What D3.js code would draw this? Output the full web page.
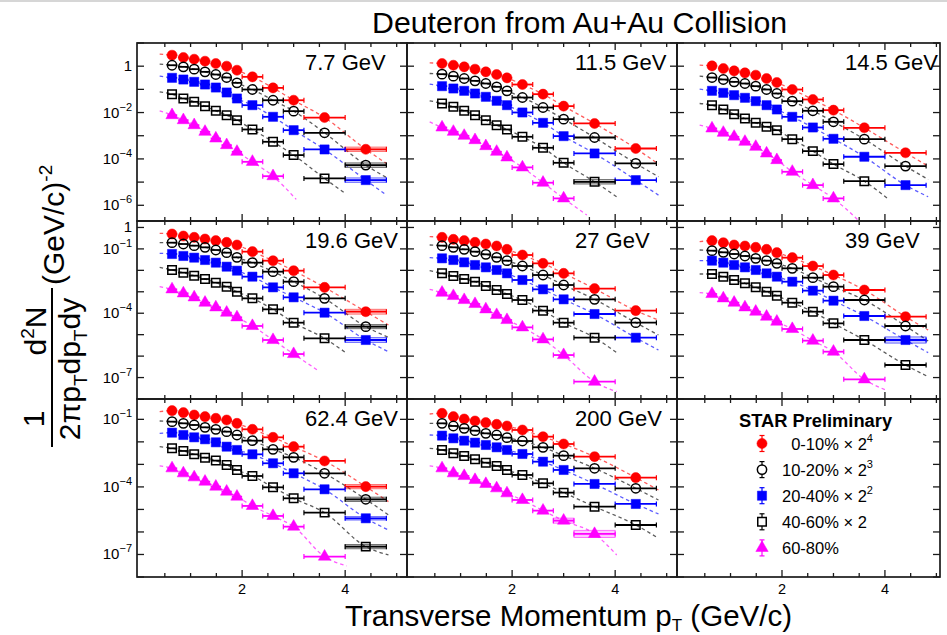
<!DOCTYPE html>
<html>
<head>
<meta charset="utf-8">
<script src="https://cdn.jsdelivr.net/npm/d3@7"></script>
<style>
  body { margin: 0; background: #fff; }
  svg { display: block; }
  text { font-family: "Liberation Sans", Arial, Helvetica, sans-serif; fill: #000; }
</style>
</head>
<body>
<svg id="chart" width="947" height="635"></svg>
<script>
// ---- data -------------------------------------------------------------
const energies = ["7.7 GeV", "11.5 GeV", "14.5 GeV", "19.6 GeV", "27 GeV", "39 GeV", "62.4 GeV", "200 GeV"];
const centralities = ["0-10%", "10-20%", "20-40%", "40-60%", "60-80%"];
const scaleExponents = ["4", "3", "2", "", null];   // "" -> x 2, null -> unscaled

// pT bins (GeV/c): marker position and bin edges
const ptCenter = [0.64, 0.86, 1.07, 1.28, 1.49, 1.70, 1.90, 2.2, 2.6, 3.0, 3.6, 4.4];
const ptLow    = [0.55, 0.76, 0.97, 1.18, 1.39, 1.60, 1.80, 2.0, 2.4, 2.8, 3.2, 4.0];
const ptHigh   = [0.74, 0.96, 1.17, 1.38, 1.59, 1.80, 2.00, 2.4, 2.8, 3.2, 4.0, 4.8];

// scaled invariant yields, one array per centrality class
const spectra_7p7 = [
  [2.98, 2.37, 2.0, 1.64, 1.30, 1.0, 0.67, 0.347, 0.116, 0.034, 6.1e-3, 2.6e-4],
  [1.10, 0.935, 0.743, 0.57, 0.437, 0.324, 0.191, 0.0986, 0.034, 0.0115, 1.34e-3, 5.4e-5],
  [0.314, 0.266, 0.211, 0.162, 0.120, 0.0733, 0.0404, 0.0208, 6.55e-3, 1.74e-3, 2.56e-4, 1.22e-5],
  [0.0621, 0.0404, 0.029, 0.0189, 0.0119, 7.73e-3, 4.7e-3, 1.86e-3, 5.48e-4, 1.46e-4, 1.44e-5],
  [7.73e-3, 4.7e-3, 2.86e-3, 1.48e-3, 7.62e-4, 3.94e-4, 2.03e-4, 7.5e-5, 1.8e-5]
];
const spectra_11p5 = [
  [1.30, 1.10, 0.935, 0.743, 0.57, 0.437, 0.314, 0.162, 0.0621, 0.0189, 3.38e-3, 2.82e-4],
  [0.452, 0.371, 0.294, 0.233, 0.179, 0.1285, 0.0865, 0.0446, 0.0165, 5.2e-3, 8.4e-4, 6.4e-5],
  [0.1374, 0.109, 0.0865, 0.0664, 0.0477, 0.0321, 0.0208, 0.01007, 3.6e-3, 9.6e-4, 1.72e-4, 1.22e-5],
  [0.0246, 0.0177, 0.0119, 7.73e-3, 4.7e-3, 2.86e-3, 1.86e-3, 9.0e-4, 3.02e-4, 6.8e-5, 1.03e-5],
  [2.27e-3, 1.48e-3, 9.93e-4, 6.46e-4, 3.56e-4, 2.03e-4, 1.16e-4, 4.3e-5, 9.4e-6, 1.98e-6]
];
const spectra_14p5 = [
  [1.03, 0.793, 0.63, 0.516, 0.409, 0.294, 0.198, 0.0986, 0.0366, 0.01268, 2.2e-3, 1.84e-4],
  [0.324, 0.266, 0.211, 0.179, 0.1374, 0.0986, 0.0664, 0.031, 0.0119, 3.99e-3, 7.13e-4, 4.9e-5],
  [0.0865, 0.0709, 0.0562, 0.0432, 0.031, 0.0208, 0.01355, 6.55e-3, 2.27e-3, 7.38e-4, 1.24e-4, 7.4e-6],
  [0.0208, 0.01355, 8.53e-3, 5.55e-3, 3.6e-3, 2.43e-3, 1.74e-3, 7.13e-4, 2.17e-4, 5.97e-5, 1.1e-5],
  [2.06e-3, 1.34e-3, 9.0e-4, 5.48e-4, 3.33e-4, 1.72e-4, 8.9e-5, 2.79e-5, 7.4e-6, 1.98e-6]
];
const spectra_19p6 = [
  [0.495, 0.399, 0.346, 0.289, 0.242, 0.202, 0.152, 0.0743, 0.0282, 9.64e-3, 1.61e-3, 1.18e-4],
  [0.195, 0.169, 0.1416, 0.1183, 0.0887, 0.0667, 0.0404, 0.0228, 8.67e-3, 2.96e-3, 4.94e-4, 2.36e-5],
  [0.0578, 0.0467, 0.039, 0.0303, 0.0228, 0.01483, 9.64e-3, 5.07e-3, 1.61e-3, 5.51e-4, 1.06e-4, 5.64e-6],
  [0.01038, 7.78e-3, 5.64e-3, 3.94e-3, 2.66e-3, 1.73e-3, 1.01e-3, 4.94e-4, 1.52e-4, 3.62e-5, 6.73e-6],
  [1.3e-3, 8.45e-4, 5.51e-4, 3.1e-4, 1.88e-4, 1.06e-4, 6.43e-5, 2.54e-5, 5.64e-6, 1.25e-6]
];
const spectra_27 = [
  [0.346, 0.279, 0.242, 0.202, 0.169, 0.1365, 0.0953, 0.0519, 0.0212, 7.24e-3, 1.4e-3, 1.32e-4],
  [0.1416, 0.1183, 0.0953, 0.0743, 0.0557, 0.0404, 0.0282, 0.0159, 6.05e-3, 2.07e-3, 4.44e-4, 3.62e-5],
  [0.0363, 0.0303, 0.0236, 0.01774, 0.0138, 0.01038, 7.24e-3, 3.54e-3, 1.3e-3, 4.44e-4, 9.18e-5, 7.23e-6],
  [7.24e-3, 5.45e-3, 3.94e-3, 2.96e-3, 1.86e-3, 1.21e-3, 7.87e-4, 4.13e-4, 1.32e-4, 3.62e-5, 7.23e-6],
  [9.08e-4, 6.35e-4, 4.13e-4, 2.69e-4, 1.52e-4, 8.26e-5, 4.82e-5, 2.19e-5, 6.05e-6, 1.12e-6, 6.4e-8]
];
const spectra_39 = [
  [0.242, 0.195, 0.152, 0.1365, 0.1183, 0.0953, 0.0667, 0.039, 0.0159, 6.05e-3, 1.21e-3, 6.9e-5],
  [0.0826, 0.0692, 0.0578, 0.0467, 0.0363, 0.0282, 0.0212, 0.0124, 4.55e-3, 1.73e-3, 4.13e-4, 2.54e-5],
  [0.0282, 0.0228, 0.01774, 0.0138, 0.01038, 7.24e-3, 5.07e-3, 2.96e-3, 1.13e-3, 3.85e-4, 7.41e-5, 5.64e-6],
  [6.75e-3, 5.07e-3, 3.54e-3, 2.48e-3, 1.61e-3, 1.01e-3, 6.58e-4, 3.1e-4, 1.18e-4, 3.37e-5, 5.64e-6, 3.85e-7],
  [7.87e-4, 4.94e-4, 3.1e-4, 1.88e-4, 1.18e-4, 6.9e-5, 4.04e-5, 1.84e-5, 5.25e-6, 1.61e-6, 8.24e-8]
];
const spectra_62p4 = [
  [0.243, 0.198, 0.156, 0.1315, 0.111, 0.0935, 0.0665, 0.0361, 0.0159, 6.12e-3, 1.42e-3, 1.03e-4],
  [0.0789, 0.0665, 0.0561, 0.0442, 0.0361, 0.0284, 0.0202, 0.0113, 4.67e-3, 2.06e-3, 4.02e-4, 2.82e-5],
  [0.0256, 0.0202, 0.0159, 0.013, 9.55e-3, 6.12e-3, 4.36e-3, 2.8e-3, 1.12e-3, 4.02e-4, 7.83e-5, 4.04e-6],
  [5.16e-3, 3.94e-3, 2.8e-3, 1.99e-3, 1.47e-3, 9.42e-4, 5.65e-4, 3.05e-4, 9.6e-5, 3.12e-5, 7.21e-6, 2.23e-7],
  [6.7e-4, 4.02e-4, 2.67e-4, 1.71e-4, 1.03e-4, 6.17e-5, 3.7e-5, 1.43e-5, 5.13e-6, 1.72e-6, 8.04e-8]
];
const spectra_200 = [
  [0.185, 0.1315, 0.1035, 0.0845, 0.0713, 0.0601, 0.0507, 0.0337, 0.017, 8.05e-3, 2.2e-3, 2.58e-4],
  [0.0665, 0.0507, 0.0399, 0.0314, 0.0239, 0.0202, 0.0154, 0.0109, 5.73e-3, 2.44e-3, 6.7e-4, 8.67e-5],
  [0.0189, 0.01436, 0.0113, 9.23e-3, 7.26e-3, 5.73e-3, 4.36e-3, 2.9e-3, 1.32e-3, 5.65e-4, 1.35e-4, 1.75e-5],
  [4.36e-3, 3.1e-3, 2.36e-3, 1.68e-3, 1.19e-3, 8.5e-4, 5.65e-4, 3.39e-4, 1.45e-4, 5.57e-5, 1.33e-5, 2.04e-6],
  [6.7e-4, 4.02e-4, 3.05e-4, 2.03e-4, 1.35e-4, 8.67e-5, 5.2e-5, 2.63e-5, 8.85e-6, 3.18e-6, 8.15e-7]
];
const spectra = [spectra_7p7, spectra_11p5, spectra_14p5, spectra_19p6, spectra_27, spectra_39, spectra_62p4, spectra_200];

// fit curves: value at the low end (pT = fitStartPt) and the high-end point of each fit
const fitStartPt = 0.4;
const fitStartValue = [
  [3.29, 1.22, 0.371, 0.0783, 0.0119],
  [1.39, 0.483, 0.1675, 0.0321, 3.99e-3],
  [1.10, 0.371, 0.102, 0.0246, 2.86e-3],
  [0.532, 0.195, 0.0621, 0.0138, 1.73e-3],
  [0.372, 0.152, 0.039, 9.64e-3, 1.3e-3],
  [0.217, 0.0887, 0.0282, 6.75e-3, 9.08e-4],
  [0.219, 0.0845, 0.0239, 6.12e-3, 8.5e-4],
  [0.1726, 0.0665, 0.0202, 5.16e-3, 8.5e-4]
];
const fitEndPt = [
  [4.8, 4.8, 4.8, 4.0, 3.05],
  [4.84, 4.84, 4.84, 4.03, 3.45],
  [4.84, 4.84, 4.84, 4.05, 3.48],
  [4.84, 4.84, 4.84, 4.03, 3.48],
  [4.84, 4.84, 4.84, 4.03, 4.03],
  [4.84, 4.84, 4.84, 4.84, 4.02],
  [4.84, 4.84, 4.84, 4.84, 4.03],
  [4.84, 4.84, 4.84, 4.84, 4.03]
];
const fitEndValue = [
  [6.4e-5, 1.59e-5, 2.75e-6, 3.25e-6, 1.79e-6],
  [5.97e-5, 1.7e-5, 2.75e-6, 2.33e-6, 3.78e-7],
  [4.9e-5, 1.3e-5, 2.33e-6, 1.98e-6, 2.3e-7],
  [2.82e-5, 7.5e-6, 1.61e-6, 1.35e-6, 2.09e-7],
  [4.82e-5, 9.64e-6, 1.92e-6, 1.45e-6, 2.19e-8],
  [1.65e-5, 5.06e-6, 1.45e-6, 1.1e-7, 2.62e-8],
  [2.22e-5, 5.7e-6, 1.23e-6, 9.5e-8, 3.1e-8],
  [7.31e-5, 2.63e-5, 6.3e-6, 5.24e-7, 9.5e-8]
];

// systematic-error boxes: [energy index, centrality index, bin index, relative size]
const sysBoxes = [
  [0, 0, 11, 0.25], [0, 1, 11, 0.25], [0, 2, 11, 0.25],
  [1, 3, 10, 0.25],
  [3, 0, 11, 0.3], [3, 1, 11, 0.25], [3, 2, 11, 0.3],
  [5, 2, 11, 0.4],
  [6, 0, 11, 0.25], [6, 1, 11, 0.25], [6, 2, 11, 0.2], [6, 3, 11, 0.25],
  [7, 4, 9, 0.3], [7, 4, 10, 0.45]
];

// axis ranges and tick labels
const xMax = [5.2, 5.2, 5.07];
const yDomains = [[2.1e-7, 10], [1e-8, 2], [1e-8, 0.8]];
const yLabelExponents = [[0, -2, -4, -6], [0, -1, -4, -7], [-1, -4, -7]];
const xLabelValues = [2, 4];

// ---- layout ----------------------------------------------------------
const colLeft = [137, 407, 677];
const colRight = [407, 677, 940];
const rowTop = [43, 221, 399];
const rowH = 178;

const seriesColor = ["#ff0000", "#000000", "#0000ff", "#000000", "#ff00ff"];
const fitColor = ["#ff4040", "#404040", "#4040ff", "#404040", "#ff40ff"];
const seriesSymbol = [d3.symbolCircle, d3.symbolCircle, d3.symbolSquare, d3.symbolSquare, d3.symbolTriangle];
const seriesSize = [80, 68, 84, 72, 66];
const seriesFilled = [true, false, true, false, true];

const svg = d3.select("#chart");
svg.append("rect").attr("width", 947).attr("height", 635).attr("fill", "#fff");
svg.append("line").attr("x1", 0).attr("x2", 947).attr("y1", 1).attr("y2", 1)
  .attr("stroke", "#c8c8c8").attr("stroke-width", 1.5);

const xScales = colLeft.map((l, c) => d3.scaleLinear().domain([-0.04, xMax[c]]).range([l, colRight[c]]));
const yScales = rowTop.map((t, r) => d3.scaleLog().domain(yDomains[r]).range([t + rowH, t]));

// ---- frames and ticks ---------------------------------------------------
for (let p = 0; p < 9; p++) {
  const col = p % 3, row = Math.floor(p / 3);
  const x = xScales[col], y = yScales[row];
  const L = colLeft[col], R = colRight[col], T = rowTop[row], B = T + rowH;
  const g = svg.append("g").attr("stroke", "#1a1a1a").attr("stroke-width", 1.3);

  const xt = d3.range(0.5, xMax[col] - 0.02, 0.5);
  xt.forEach(v => {
    const major = Math.abs(v % 2) < 1e-6;
    const len = major ? 7 : 4;
    g.append("line").attr("x1", x(v)).attr("x2", x(v)).attr("y1", B).attr("y2", B - len);
    g.append("line").attr("x1", x(v)).attr("x2", x(v)).attr("y1", T).attr("y2", T + len);
  });
  const e0 = Math.ceil(Math.log10(yDomains[row][0]) - 1e-9);
  const e1 = Math.floor(Math.log10(yDomains[row][1]) + 1e-9);
  d3.range(e0, e1 + 1).forEach(e => {
    const yy = y(Math.pow(10, e));
    g.append("line").attr("x1", L).attr("x2", L + 7).attr("y1", yy).attr("y2", yy);
    g.append("line").attr("x1", R).attr("x2", R - 7).attr("y1", yy).attr("y2", yy);
  });
  g.append("rect").attr("x", L).attr("y", T).attr("width", R - L).attr("height", rowH)
    .attr("fill", "none").attr("stroke-width", 1.7);

  if (row === 2) {
    xLabelValues.forEach(v => {
      svg.append("text").attr("x", x(v)).attr("y", 594).attr("text-anchor", "middle")
        .attr("font-size", 14.5).text(v);
    });
  }
  if (col === 0) {
    yLabelExponents[row].forEach(e => {
      const t = svg.append("text").attr("x", 132).attr("y", y(Math.pow(10, e)) + 5)
        .attr("text-anchor", "end").attr("font-size", 15);
      if (e === 0) t.text("1");
      else {
        t.append("tspan").text("10");
        t.append("tspan").attr("font-size", 11).attr("dy", -7).text("\u2212" + (-e));
      }
    });
  }
}

// ---- spectra --------------------------------------------------------------
const fitLine = (x, y) => d3.line().x(d => x(d[0])).y(d => y(d[1])).curve(d3.curveMonotoneX);

energies.forEach((en, i) => {
  const col = i % 3, row = Math.floor(i / 3);
  const x = xScales[col], y = yScales[row];
  const g = svg.append("g");

  // fits
  spectra[i].forEach((vals, s) => {
    const pts = [[fitStartPt, fitStartValue[i][s]]]
      .concat(vals.map((v, k) => [ptCenter[k], v]))
      .concat([[fitEndPt[i][s], fitEndValue[i][s]]]);
    g.append("path").attr("d", fitLine(x, y)(pts))
      .attr("fill", "none").attr("stroke", fitColor[s]).attr("stroke-width", 1.3)
      .attr("stroke-dasharray", "3.5,3").attr("opacity", 0.85);
  });

  // systematic boxes
  sysBoxes.filter(b => b[0] === i).forEach(([, s, k, rel]) => {
    const v = spectra[i][s][k];
    const y0 = y(v * (1 + rel)), y1 = y(v / (1 + rel));
    g.append("rect").attr("x", x(ptLow[k])).attr("y", y0)
      .attr("width", x(ptHigh[k]) - x(ptLow[k])).attr("height", y1 - y0)
      .attr("fill", seriesColor[s]).attr("fill-opacity", 0.22)
      .attr("stroke", seriesColor[s]).attr("stroke-opacity", 0.6).attr("stroke-width", 0.8);
  });

  // horizontal bin-width bars with end caps
  spectra[i].forEach((vals, s) => {
    vals.forEach((v, k) => {
      const yy = y(v);
      g.append("line").attr("x1", x(ptLow[k])).attr("x2", x(ptHigh[k])).attr("y1", yy).attr("y2", yy)
        .attr("stroke", seriesColor[s]).attr("stroke-width", 1.8);
      if (k >= 7) {
        [ptLow[k], ptHigh[k]].forEach(e => {
          g.append("line").attr("x1", x(e)).attr("x2", x(e)).attr("y1", yy - 2.5).attr("y2", yy + 2.5)
            .attr("stroke", seriesColor[s]).attr("stroke-width", 1.2);
        });
      }
    });
  });

  // markers
  spectra[i].forEach((vals, s) => {
    const sym = d3.symbol().type(seriesSymbol[s]).size(seriesSize[s]);
    g.selectAll(null).data(vals).join("path")
      .attr("d", sym)
      .attr("transform", (v, k) => `translate(${x(ptCenter[k])},${y(v)})`)
      .attr("fill", seriesFilled[s] ? seriesColor[s] : "none")
      .attr("stroke", seriesColor[s]).attr("stroke-width", seriesFilled[s] ? 0.5 : 1.5);
  });

  svg.append("text").attr("x", colLeft[col] + 168).attr("y", rowTop[row] + 27)
    .attr("font-size", 22).text(en);
});

// ---- legend -------------------------------------------------------------
svg.append("text").attr("x", 739).attr("y", 427).attr("font-size", 18.3)
  .attr("font-weight", "bold").text("STAR Preliminary");
centralities.forEach((c, s) => {
  const cy = 443.5 + s * 26.1, cx = 762;
  const g = svg.append("g");
  g.append("line").attr("x1", cx).attr("x2", cx).attr("y1", cy - 8).attr("y2", cy + 8)
    .attr("stroke", seriesColor[s]).attr("stroke-width", 1.2);
  [cy - 8, cy + 8].forEach(yy => g.append("line").attr("x1", cx - 2.5).attr("x2", cx + 2.5)
    .attr("y1", yy).attr("y2", yy).attr("stroke", seriesColor[s]).attr("stroke-width", 1.2));
  g.append("path").attr("d", d3.symbol().type(seriesSymbol[s]).size(seriesSize[s])())
    .attr("transform", `translate(${cx},${cy})`)
    .attr("fill", seriesFilled[s] ? seriesColor[s] : "#fff")
    .attr("stroke", seriesColor[s]).attr("stroke-width", seriesFilled[s] ? 0.5 : 1.5);
  const t = g.append("text").attr("x", 782).attr("y", cy + 6).attr("font-size", 16.5);
  t.append("tspan").text((c.length < 6 ? "\u2007" : "") + c);
  const ex = scaleExponents[s];
  if (ex !== null) {
    t.append("tspan").text(" \u00d7 2");
    if (ex !== "") t.append("tspan").attr("font-size", 11).attr("dy", -8).text(ex);
  }
});

// ---- titles -------------------------------------------------------------
svg.append("text").attr("x", 372).attr("y", 33).attr("font-size", 30.3)
  .text("Deuteron from Au+Au Collision");

const xt = svg.append("text").attr("x", 792).attr("y", 626).attr("text-anchor", "end")
  .attr("font-size", 29.5);
xt.append("tspan").text("Transverse Momentum p");
xt.append("tspan").attr("font-size", 17).attr("dy", 5).text("T");
xt.append("tspan").attr("dy", -5).text(" (GeV/c)");

const yt = svg.append("g").attr("font-size", 30);
yt.append("text").attr("transform", "translate(44,419) rotate(-90)").attr("text-anchor", "middle").text("1");
const num = yt.append("text").attr("transform", "translate(46,331) rotate(-90)").attr("text-anchor", "middle");
num.append("tspan").text("d");
num.append("tspan").attr("font-size", 19).attr("dy", -12).text("2");
num.append("tspan").attr("dy", 12).text("N");
yt.append("line").attr("x1", 52).attr("x2", 52).attr("y1", 288).attr("y2", 447)
  .attr("stroke", "#000").attr("stroke-width", 2);
const den = yt.append("text").attr("transform", "translate(80,369) rotate(-90)").attr("text-anchor", "middle");
den.append("tspan").text("2\u03c0p");
den.append("tspan").attr("font-size", 19).attr("dy", 7).text("T");
den.append("tspan").attr("dy", -7).text("dp");
den.append("tspan").attr("font-size", 19).attr("dy", 7).text("T");
den.append("tspan").attr("dy", -7).text("dy");
const unit = yt.append("text").attr("transform", "translate(64,285) rotate(-90)");
unit.append("tspan").text("(GeV/c)");
unit.append("tspan").attr("font-size", 19).attr("dy", -12).text("-2");
</script>
</body>
</html>
